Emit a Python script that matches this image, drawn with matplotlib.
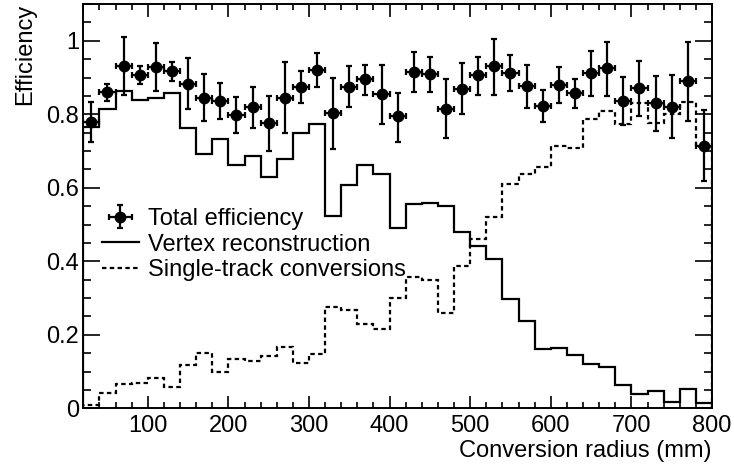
import numpy as np
import matplotlib
matplotlib.use('Agg')
import matplotlib.pyplot as plt
from matplotlib.ticker import MultipleLocator, FormatStrFormatter

plt.rcParams['font.family'] = ['Liberation Sans', 'DejaVu Sans']

# bin edges in conversion radius (mm), 20 mm bins
bin_edges = np.arange(20, 801, 20)
bin_centers = 0.5 * (bin_edges[:-1] + bin_edges[1:])

total_eff = [0.780, 0.861, 0.932, 0.908, 0.929, 0.919, 0.883, 0.845, 0.836, 0.799,
             0.819, 0.776, 0.845, 0.875, 0.921, 0.803, 0.875, 0.895, 0.854, 0.794,
             0.915, 0.910, 0.815, 0.870, 0.906, 0.930, 0.913, 0.877, 0.823, 0.880,
             0.857, 0.913, 0.925, 0.837, 0.872, 0.830, 0.821, 0.891, 0.715]
total_up = [0.833, 0.882, 1.011, 0.932, 0.995, 0.943, 0.952, 0.909, 0.884, 0.848,
            0.873, 0.850, 0.941, 0.919, 0.968, 0.900, 0.931, 0.934, 0.934, 0.859,
            0.970, 0.957, 0.896, 0.939, 0.955, 1.005, 0.961, 0.934, 0.866, 0.928,
            0.896, 0.973, 0.997, 0.902, 0.946, 0.904, 0.907, 0.998, 0.812]
total_lo = [0.725, 0.837, 0.853, 0.882, 0.862, 0.891, 0.814, 0.782, 0.786, 0.748,
            0.764, 0.701, 0.748, 0.832, 0.875, 0.706, 0.820, 0.853, 0.774, 0.725,
            0.860, 0.861, 0.735, 0.800, 0.853, 0.853, 0.864, 0.816, 0.779, 0.832,
            0.816, 0.851, 0.851, 0.771, 0.795, 0.755, 0.735, 0.783, 0.619]

vertex_eff = [0.766, 0.814, 0.863, 0.839, 0.844, 0.859, 0.762, 0.692, 0.733, 0.661,
              0.687, 0.630, 0.677, 0.750, 0.773, 0.524, 0.607, 0.662, 0.637, 0.491,
              0.556, 0.558, 0.551, 0.479, 0.442, 0.406, 0.297, 0.238, 0.162, 0.165,
              0.145, 0.121, 0.113, 0.063, 0.039, 0.048, 0.016, 0.052, 0.014]

single_eff = [0.009, 0.041, 0.065, 0.068, 0.082, 0.057, 0.118, 0.151, 0.098, 0.135,
              0.129, 0.142, 0.166, 0.122, 0.147, 0.275, 0.267, 0.229, 0.215, 0.301,
              0.358, 0.349, 0.260, 0.388, 0.461, 0.521, 0.610, 0.637, 0.657, 0.714,
              0.707, 0.787, 0.809, 0.773, 0.832, 0.777, 0.800, 0.834, 0.712]

FS = 17


def main():
    fig = plt.figure(figsize=(7.34, 4.67), dpi=100)
    ax = fig.add_axes([0.1135, 0.1257, 0.8565, 0.8657])

    tot = np.array(total_eff)
    yerr = [tot - np.array(total_lo), np.array(total_up) - tot]
    xerr = np.diff(bin_edges) / 2

    ax.stairs(vertex_eff, bin_edges, color='black', lw=1.6,
              label='Vertex reconstruction')
    ax.stairs(single_eff, bin_edges, color='black', lw=1.6,
              linestyle=(0, (2, 1.5)), label='Single-track conversions')
    ax.errorbar(bin_centers, tot, yerr=yerr, xerr=xerr, fmt='o', color='black',
                ms=7.5, lw=1.6, capsize=2.2, capthick=1.6,
                label='Total efficiency')

    ax.set_xlim(20, 800)
    ax.set_ylim(0, 1.1)
    ax.xaxis.set_major_locator(MultipleLocator(100))
    ax.xaxis.set_minor_locator(MultipleLocator(20))
    ax.yaxis.set_major_locator(MultipleLocator(0.2))
    ax.yaxis.set_minor_locator(MultipleLocator(0.05))
    ax.yaxis.set_major_formatter(FormatStrFormatter('%g'))

    ax.tick_params(which='both', direction='in', top=True, right=True,
                   labelsize=FS, width=1.2)
    ax.tick_params(axis='x', which='major', length=9, pad=5)
    ax.tick_params(axis='x', which='minor', length=4.5)
    ax.tick_params(axis='y', which='major', length=12, pad=3)
    ax.tick_params(axis='y', which='minor', length=6)
    for s in ax.spines.values():
        s.set_linewidth(1.4)

    ax.set_xlabel('Conversion radius (mm)', loc='right', fontsize=FS, labelpad=2)
    ax.set_ylabel('Efficiency', loc='top', fontsize=FS, labelpad=7)

    handles, labels = ax.get_legend_handles_labels()
    order = [2, 0, 1]
    ax.legend([handles[i] for i in order], [labels[i] for i in order],
              loc='center left', bbox_to_anchor=(0.03, 0.405), frameon=False,
              fontsize=FS, handlelength=1.55, handletextpad=0.4,
              labelspacing=0.16, borderpad=0, borderaxespad=0)

    fig.savefig('out.png', dpi=100)


if __name__ == '__main__':
    main()
